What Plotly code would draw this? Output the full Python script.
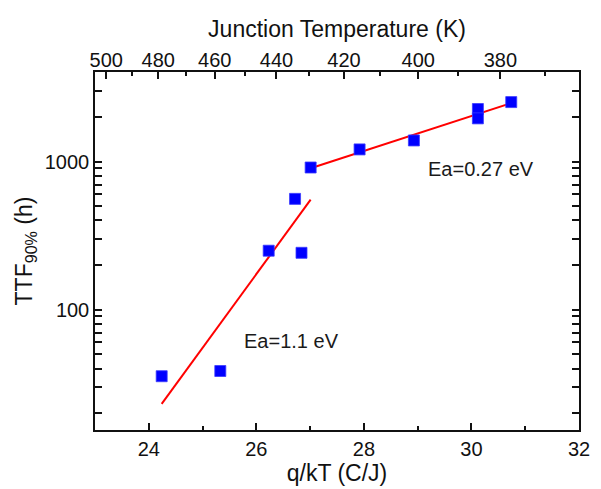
import plotly.graph_objects as go

# ---- data ----
qkT = [24.24, 25.33, 26.23, 26.72, 26.84, 27.01, 27.92, 28.93, 30.12, 30.12, 30.74]
ttf = [35.5, 38.5, 250, 560, 242, 912, 1208, 1389, 2265, 1958, 2522]

fit_low_x = [24.24, 27.01]
fit_low_y = [23.1, 553]
fit_high_x = [27.01, 30.74]
fit_high_y = [902, 2483]

x_major = [24, 26, 28, 30, 32]
x_minor = [25, 27, 29, 31]
y_major = [100, 1000]
y_minor = [20, 30, 40, 50, 60, 70, 80, 90, 200, 300, 400, 500, 600, 700, 800, 900, 2000, 3000]
temp_major = [500, 480, 460, 440, 420, 400, 380]
temp_minor = [490, 470, 450, 430, 410, 390, 370]

Q_OVER_K = 11604.52  # q/k in K per V

FONT = "Liberation Sans, Arial, sans-serif"
AX = "#111111"

fig = go.Figure()
fig.add_trace(go.Scatter(x=fit_low_x, y=fit_low_y, mode="lines",
                         line=dict(color="#ff0000", width=2), showlegend=False))
fig.add_trace(go.Scatter(x=fit_high_x, y=fit_high_y, mode="lines",
                         line=dict(color="#ff0000", width=2), showlegend=False))
fig.add_trace(go.Scatter(x=qkT, y=ttf, mode="markers",
                         marker=dict(symbol="square", size=11, color="#0000ff",
                                     line=dict(width=0.8, color="#3a3aff")),
                         showlegend=False))
fig.add_trace(go.Scatter(x=[None], y=[None], xaxis="x2", showlegend=False,
                         hoverinfo="skip"))

fig.update_layout(
    width=601, height=489,
    margin=dict(l=95, r=11, t=72, b=56),
    paper_bgcolor="white", plot_bgcolor="white",
    font=dict(family=FONT, size=20, color=AX),
    xaxis=dict(range=[23, 32], tickmode="array", tickvals=x_major,
               ticks="inside", ticklen=7, tickwidth=1.5, tickcolor=AX,
               minor=dict(tickmode="array", tickvals=x_minor, ticks="inside",
                          ticklen=4, tickwidth=1.5, tickcolor=AX),
               showline=True, linecolor=AX, linewidth=1.5, mirror=True,
               showgrid=False, zeroline=False,
               tickfont=dict(size=20, color=AX),
               title=dict(text="q/kT (C/J)", font=dict(size=23, color=AX), standoff=2)),
    xaxis2=dict(range=[23, 32], overlaying="x", side="top", anchor="y",
                tickmode="array",
                tickvals=[Q_OVER_K / t for t in temp_major],
                ticktext=[str(t) for t in temp_major],
                ticks="inside", ticklen=7, tickwidth=1.5, tickcolor=AX,
                minor=dict(tickmode="array",
                           tickvals=[Q_OVER_K / t for t in temp_minor],
                           ticks="inside", ticklen=4, tickwidth=1.5, tickcolor=AX),
                showline=False, showgrid=False, zeroline=False,
                tickfont=dict(size=20, color=AX),
                title=dict(text="Junction Temperature (K)", font=dict(size=23, color=AX), standoff=4)),
    yaxis=dict(type="log", range=[1.187, 3.605], tickmode="array",
               tickvals=y_major, ticktext=["100", "1000"],
               ticks="inside", ticklen=7, tickwidth=1.5, tickcolor=AX,
               minor=dict(tickmode="array", tickvals=y_minor, ticks="inside",
                          ticklen=4, tickwidth=1.5, tickcolor=AX),
               showline=True, linecolor=AX, linewidth=1.5, mirror="allticks",
               showgrid=False, zeroline=False,
               tickfont=dict(size=20, color=AX),
               title=dict(text="TTF<sub>90%</sub> (h)", font=dict(size=23, color=AX), standoff=6)),
)

fig.add_annotation(x=25.74, y=1.79, yref="y", xref="x", text="Ea=1.1 eV",
                   showarrow=False, xanchor="left", yanchor="middle",
                   font=dict(size=20, color="#1a1a1a"))
fig.add_annotation(x=29.15, y=2.948, yref="y", xref="x", text="Ea=0.27 eV",
                   showarrow=False, xanchor="left", yanchor="middle",
                   font=dict(size=20, color="#1a1a1a"))

fig.write_html("out.html")
